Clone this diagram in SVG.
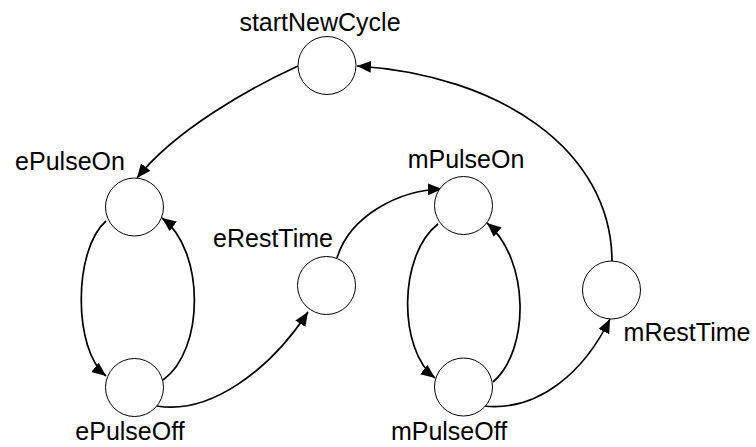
<svg xmlns="http://www.w3.org/2000/svg" width="756" height="447" viewBox="0 0 756 447">
<defs>
<style>
.node circle{fill:#fff;stroke:#000;stroke-width:1}
.node text{font-family:"Liberation Sans",Arial,sans-serif;font-size:25px;fill:#000;text-anchor:middle}
.edge{fill:none;stroke:#000;stroke-width:1.7;marker-end:url(#arr)}
</style>
<marker id="arr" markerUnits="userSpaceOnUse" markerWidth="16" markerHeight="13" refX="14" refY="6" orient="auto">
<path d="M0,0 L14,6 L0,12 z" fill="#000"/>
</marker>
</defs>
<rect width="756" height="447" fill="#fff"/>
<g id="connectors">
<path class="edge" d="M298,66 C250,88 175,130 137,178"/>
<path class="edge" d="M106,221 C73,250 73,350 106,376"/>
<path class="edge" d="M163,380 C205,350 205,250 162,218"/>
<path class="edge" d="M157,406 C210,415 270,370 308,312"/>
<path class="edge" d="M337,258 C350,215 400,190 442,189"/>
<path class="edge" d="M438,224 C398,255 398,350 435,378"/>
<path class="edge" d="M493,382 C530,350 530,260 487,223"/>
<path class="edge" d="M484,406 C540,412 585,370 610,319"/>
<path class="edge" d="M612,262 C612,150 500,75 357,66"/>
</g>
<g id="startNewCycle" class="node"><circle cx="327" cy="65.5" r="29"/><text x="320" y="31">startNewCycle</text></g>
<g id="ePulseOn" class="node"><circle cx="134.5" cy="207" r="29"/><text x="70" y="170">ePulseOn</text></g>
<g id="ePulseOff" class="node"><circle cx="134.5" cy="387.5" r="29"/><text x="130" y="440">ePulseOff</text></g>
<g id="eRestTime" class="node"><circle cx="326.5" cy="285.5" r="29"/><text x="273" y="247">eRestTime</text></g>
<g id="mPulseOn" class="node"><circle cx="463.5" cy="205.5" r="29"/><text x="466" y="168">mPulseOn</text></g>
<g id="mPulseOff" class="node"><circle cx="463.5" cy="387" r="29"/><text x="449" y="440">mPulseOff</text></g>
<g id="mRestTime" class="node"><circle cx="611.5" cy="290" r="29"/><text x="687" y="341">mRestTime</text></g>
</svg>
